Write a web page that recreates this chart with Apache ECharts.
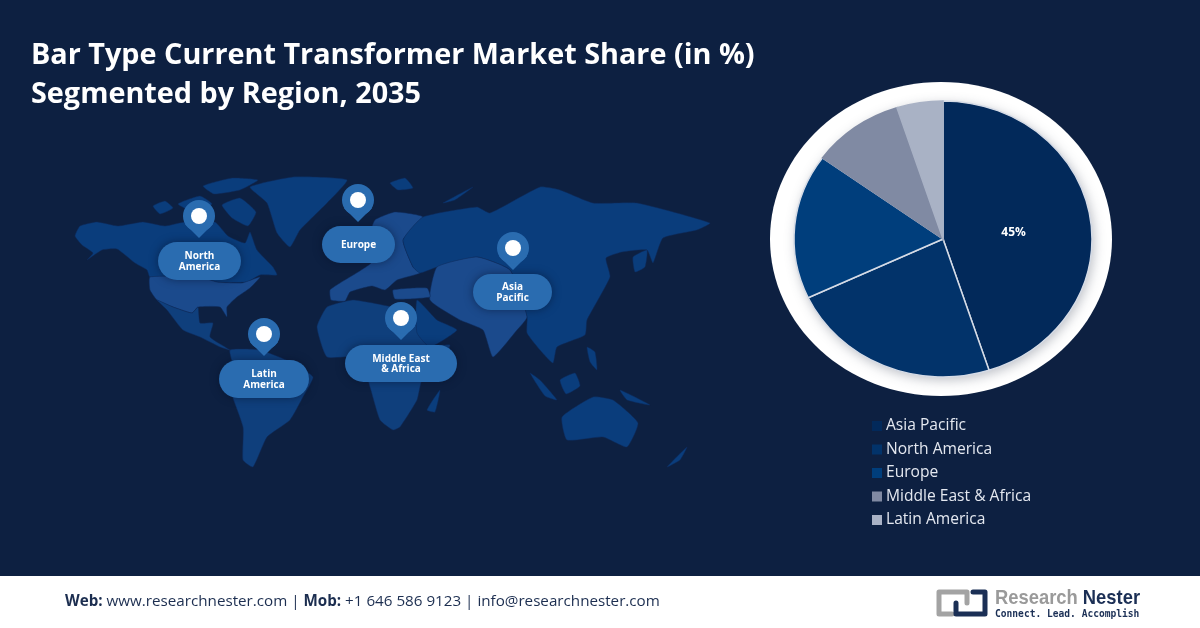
<!DOCTYPE html>
<html>
<head>
<meta charset="utf-8">
<title>Bar Type Current Transformer Market Share</title>
<style>html,body{margin:0;padding:0;background:#0d2041}#one{width:1200px;height:628px}</style>
<script src="https://cdn.jsdelivr.net/npm/echarts@6/dist/echarts.min.js"></script>
</head>
<body>
<div id="one"></div>
<script>
var regions = ['Asia Pacific', 'North America', 'Europe', 'Middle East & Africa', 'Latin America'];
var shares = [45, 23, 17, 10, 5];
var shareLabels = ['45%', '', '', '', ''];
var sliceColors = ['#02295a', '#02336a', '#003e7c', '#808aa3', '#a9b2c5'];

// map illustration, in page pixels
var darkLand = '#0a3d7c', midLand = '#0f3f7c', lightLand = '#1b4a8c';
var land = [
  [darkLand, [[75,236],[80,226],[97,222],[118,226],[143,222],[165,226],[185,222],[200,226],[215,222],[228,236],[245,243],[250,232],[257,250],[273,267],[277,275],[260,275],[247,282],[217,282],[200,277],[150,277],[147,270],[135,263],[117,249],[102,250],[87,260],[93,253],[82,245]]],
  [darkLand, [[153,206],[165,201],[173,208],[160,214]]],
  [darkLand, [[178,204],[200,196],[212,204],[196,213]]],
  [darkLand, [[203,186],[232,178],[258,180],[240,190],[214,194]]],
  [darkLand, [[222,205],[240,198],[256,212],[248,226],[232,218]]],
  [darkLand, [[250,187],[293,177],[347,180],[327,203],[300,230],[290,247],[277,233],[267,203]]],
  [lightLand, [[150,277],[200,277],[217,282],[242,283],[260,277],[250,288],[237,297],[227,307],[227,317],[220,307],[198,307],[192,313],[173,307],[157,300],[150,290]]],
  [midLand, [[157,300],[173,307],[192,313],[198,307],[200,323],[213,323],[210,337],[230,350],[220,347],[200,337],[183,330],[167,310]]],
  [midLand, [[230,350],[260,350],[293,363],[313,377],[303,397],[290,420],[267,437],[253,467],[243,460],[243,427],[227,380],[233,367]]],
  [midLand, [[317,327],[327,307],[353,300],[393,307],[417,312],[432,345],[450,345],[440,365],[422,380],[417,400],[400,427],[393,430],[380,420],[370,387],[360,357],[327,357]]],
  [darkLand, [[427,410],[440,390],[435,412]]],
  [lightLand, [[330,290],[340,283],[372,262],[368,240],[375,220],[395,212],[423,217],[403,240],[413,267],[420,273],[397,280],[385,290],[372,286],[350,292],[345,301],[331,300]]],
  [darkLand, [[403,240],[423,217],[477,207],[490,213],[540,187],[560,190],[593,203],[637,203],[710,223],[697,230],[663,238],[653,263],[647,250],[622,252],[606,258],[610,277],[587,320],[585,335],[557,347],[553,363],[540,350],[527,333],[527,317],[510,270],[477,257],[437,267],[420,273],[413,267]]],
  [lightLand, [[437,267],[477,257],[510,270],[527,317],[517,330],[493,357],[483,330],[460,320],[430,300]]],
  [lightLand, [[393,290],[427,288],[430,297],[395,299]]],
  [darkLand, [[417,300],[437,320],[457,330],[430,347],[417,333]]],
  [darkLand, [[530,373],[540,380],[557,400],[545,396]]],
  [darkLand, [[560,380],[575,373],[580,386],[566,394]]],
  [darkLand, [[620,390],[650,405],[627,400]]],
  [darkLand, [[587,347],[595,352],[597,370],[590,362]]],
  [darkLand, [[633,257],[647,250],[645,267],[635,272]]],
  [darkLand, [[562,417],[593,397],[613,400],[638,423],[627,447],[603,437],[567,440]]],
  [darkLand, [[667,467],[687,447],[680,460]]],
  [darkLand, [[390,183],[405,178],[413,188],[398,190]]],
  [darkLand, [[443,203],[473,187],[455,200]]]
];

// pin centre x, pin centre y, pill box, label
var pins = [
  [199, 216, 158, 242, 83, 38, 'North\nAmerica'],
  [358, 200, 322, 226, 73, 37, 'Europe'],
  [264, 334, 219, 360, 90, 38, 'Latin\nAmerica'],
  [401, 318, 345, 345, 112, 37, 'Middle East\n& Africa'],
  [513, 248, 473, 274, 79, 36, 'Asia\nPacific']
];

var pieX = 943, pieY = 239, pieR = 138, pieStretch = 149 / 138;

var graphics = [];
graphics.push({type: 'rect', shape: {x: 0, y: 576, width: 1200, height: 52}, style: {fill: '#ffffff'}});
land.forEach(function (l) {
  graphics.push({type: 'polygon', shape: {points: l[1], smooth: 0.15}, style: {fill: l[0], stroke: '#0e2a5a', lineWidth: 0.5}});
});
pins.forEach(function (p) {
  var pinColor = '#2a6cb0';
  graphics.push({type: 'rect', shape: {x: p[2], y: p[3], width: p[4], height: p[5], r: p[5] / 2},
    style: {fill: pinColor, shadowBlur: 8, shadowColor: 'rgba(5,15,40,0.5)'}});
  graphics.push({type: 'text', x: p[2] + p[4] / 2, y: p[3] + p[5] / 2 + 0.5,
    style: {text: p[6], fill: '#ffffff', font: 'bold 10px "Open Sans"', lineHeight: 10.5, align: 'center', verticalAlign: 'middle'}});
  graphics.push({type: 'polygon', shape: {points: [[p[0] - 14, p[1] + 8], [p[0] + 14, p[1] + 8], [p[0], p[1] + 22]]}, style: {fill: pinColor}});
  graphics.push({type: 'circle', shape: {cx: p[0], cy: p[1], r: 16}, style: {fill: pinColor}});
  graphics.push({type: 'circle', shape: {cx: p[0], cy: p[1], r: 8}, style: {fill: '#ffffff'}});
});
// white ring round the pie
graphics.push({type: 'ellipse', shape: {cx: 941, cy: pieY, rx: 171, ry: 157}, style: {fill: '#ffffff'}});
graphics.push({type: 'ellipse', shape: {cx: pieX, cy: pieY, rx: 149, ry: 138},
  style: {fill: '#ffffff', shadowBlur: 12, shadowOffsetX: 2, shadowOffsetY: 3, shadowColor: 'rgba(60,70,90,0.35)'}});
// footer
graphics.push({type: 'text', x: 65, y: 602, style: {
  text: '{b|Web:} www.researchnester.com | {b|Mob:} +1 646 586 9123 | info@researchnester.com',
  fill: '#1c2e50', font: '15.2px "Open Sans"', verticalAlign: 'middle',
  rich: {
    b: {font: 'bold 15.2px "Open Sans"', fill: '#1c2e50'}
  }
}});
// logo
graphics.push({type: 'polyline', shape: {points: [[967, 603], [967, 592], [939, 592], [939, 614], [952, 614]]},
  style: {stroke: '#a3a3a3', lineWidth: 5, fill: 'none', lineJoin: 'round', lineCap: 'round'}});
graphics.push({type: 'polyline', shape: {points: [[973, 592], [985, 592], [985, 614], [956, 614], [956, 603]]},
  style: {stroke: '#1b2f55', lineWidth: 5, fill: 'none', lineJoin: 'round', lineCap: 'round'}});
graphics.push({type: 'text', x: 995, y: 598, scaleX: 0.875, style: {text: '{g|Research} {n|Nester}', verticalAlign: 'middle', font: 'bold 21px "Liberation Sans"',
  rich: {g: {font: 'bold 21px "Liberation Sans"', fill: '#9a9a9a'}, n: {font: 'bold 21px "Liberation Sans"', fill: '#1b2f55'}}}});
graphics.push({type: 'text', x: 995, y: 614, style: {text: 'Connect. Lead. Accomplish', fill: '#1b2f55', font: 'bold 9.6px "DejaVu Sans Mono"', verticalAlign: 'middle'}});

var cumulative = 0;
var series = regions.map(function (name, i) {
  var start = cumulative;
  cumulative += shares[i];
  var end = cumulative;
  return {
    name: name,
    type: 'custom',
    coordinateSystem: 'none',
    itemStyle: {color: sliceColors[i]},
    data: [shares[i]],
    renderItem: function () {
      var a0 = -Math.PI / 2 + start / 100 * Math.PI * 2;
      var a1 = -Math.PI / 2 + end / 100 * Math.PI * 2;
      var mid = (a0 + a1) / 2;
      return {
        type: 'group',
        children: [{
          type: 'sector',
          x: pieX, y: pieY, scaleX: pieStretch,
          shape: {cx: 0, cy: 0, r0: 0, r: pieR, startAngle: a0, endAngle: a1, clockwise: true},
          style: {fill: sliceColors[i], stroke: i < 3 ? '#d5dbe6' : sliceColors[i], lineWidth: 1.4}
        }, {
          type: 'text',
          x: pieX + Math.cos(mid) * pieR * pieStretch * 0.48,
          y: pieY + Math.sin(mid) * pieR * 0.3,
          style: {text: shareLabels[i], fill: '#ffffff', font: 'bold 12px "Open Sans"', align: 'center', verticalAlign: 'middle'}
        }]
      };
    }
  };
});

var myChart = echarts.init(document.getElementById('one'));
var option = {
  animation: false,
  backgroundColor: '#0d2041',
  title: {
    text: 'Bar Type Current Transformer Market Share (in %)\nSegmented by Region, 2035',
    left: 26, top: 31,
    textStyle: {color: '#ffffff', fontFamily: 'Open Sans', fontWeight: 'bold', fontSize: 28.8, lineHeight: 39}
  },
  legend: {
    data: regions,
    orient: 'vertical',
    left: 867, top: 413,
    icon: 'rect',
    itemWidth: 10, itemHeight: 10, itemGap: 7.5,
    textStyle: {color: '#e4e8f0', fontFamily: 'Open Sans', fontSize: 15.6, padding: [0, 0, 0, -1]}
  },
  graphic: graphics,
  series: series
};
myChart.setOption(option);
</script>
</body>
</html>
